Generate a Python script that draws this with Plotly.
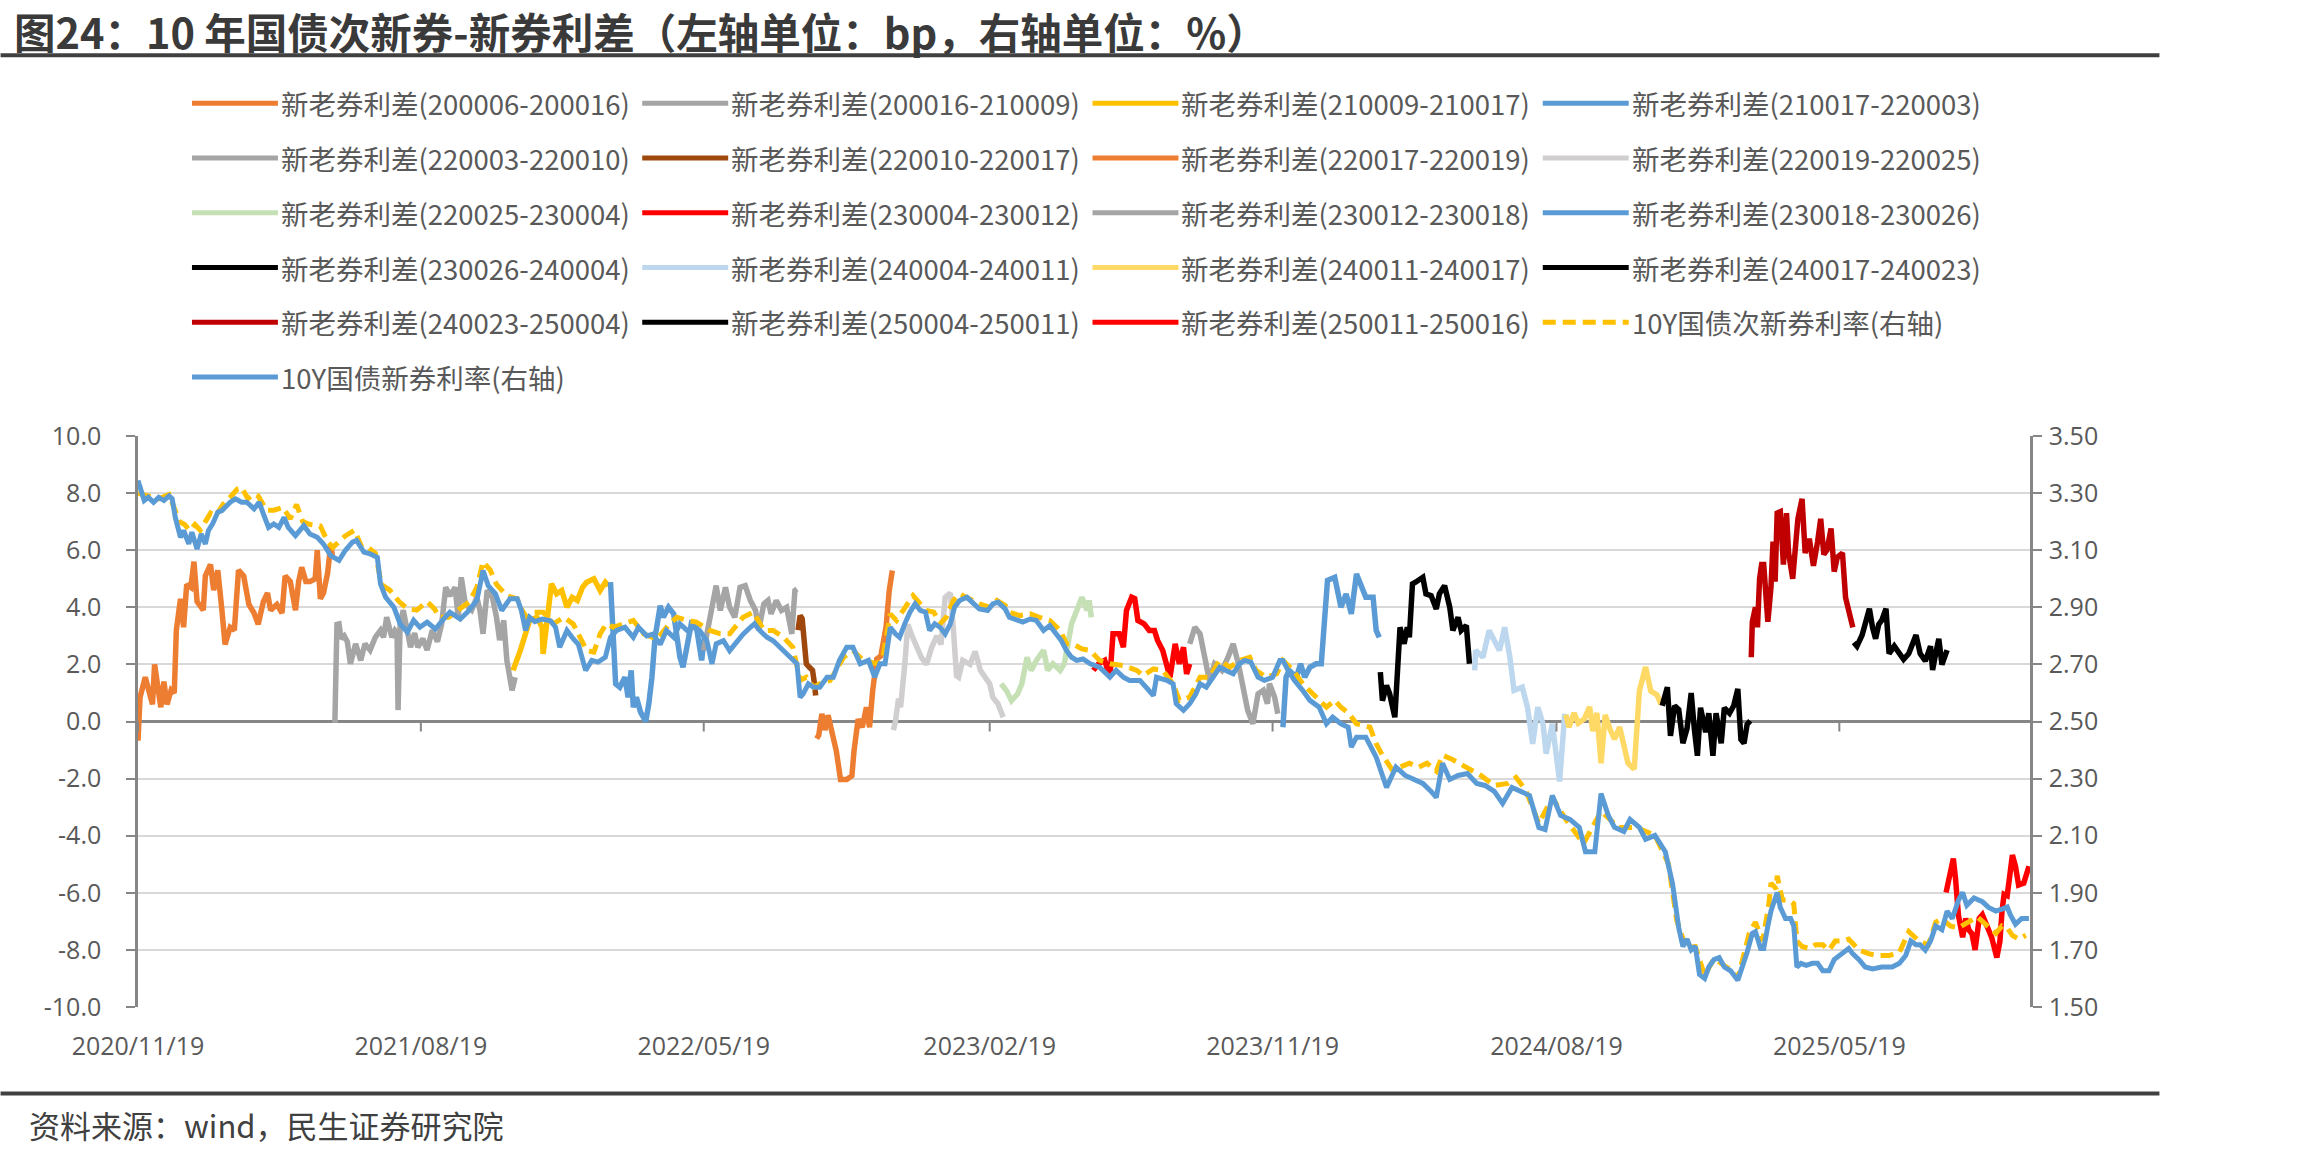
import pandas as pd
import plotly.graph_objects as go

BASE_DATE = "2020-11-19"   # x values below are calendar days counted from this date
X_END = "2025-11-19"

# ---------------- spreads (bp, left axis) ----------------
s01_day = [0, 2, 7, 10, 14, 16, 18, 22, 25, 28, 32, 35, 37, 41, 44, 47, 51, 54, 57, 61, 63, 65, 70, 73, 77, 81, 84, 89, 93, 97,
           102, 107, 112, 116, 121, 125, 128, 134, 139, 142, 147, 152, 155, 158, 162, 166, 171, 173, 176, 179, 183, 186, 188]
s01_bp = [-0.67, 0.85, 1.55, 1.2, 0.6, 2.0, 1.5, 0.5, 1.4, 0.6, 1.1, 1.0, 3.2, 4.3, 3.3, 4.8, 4.7, 5.6, 4.2, 4.0, 3.9, 5.1, 5.5, 4.6, 5.3, 3.9, 2.7, 3.3, 3.2, 5.3,
          5.1, 4.1, 3.8, 3.4, 4.2, 4.5, 3.9, 4.1, 3.8, 5.1, 4.9, 3.9, 4.9, 5.4, 4.9, 4.9, 5.0, 6.0, 4.3, 4.5, 5.2, 6.2, 5.7]

s02_day = [190, 192, 194, 196, 199, 202, 205, 210, 215, 219, 224, 229, 234, 237, 240, 245, 248, 250, 251, 253, 256, 260, 263, 267,
           270, 275, 279, 284, 289, 293, 297, 301, 306, 309, 312, 316, 322, 327, 330, 333, 337, 342, 346, 349, 353, 356, 361, 364]
s02_bp = [-0.05, 3.4, 3.42, 2.9, 3.0, 2.8, 2.02, 2.72, 2.14, 2.72, 2.5, 2.95, 3.19, 2.95, 3.65, 2.95, 3.19, 3.1, 0.4, 3.4, 3.9, 3.1, 2.6, 3.1,
          2.6, 2.9, 2.5, 3.2, 2.8, 3.4, 4.7, 4.4, 4.7, 3.65, 5.05, 4.1, 3.9, 4.35, 3.9, 3.07, 4.6, 4.35, 3.65, 2.85, 3.54, 2.14, 1.09, 1.55]

s03_day = [362, 366, 369, 372, 375, 378, 385, 390, 391, 395, 399, 404, 409, 414, 419, 424, 429, 433, 440, 446, 451, 454]
s03_bp = [1.79, 2.14, 2.49, 2.84, 3.19, 3.54, 3.65, 3.3, 2.37, 3.5, 4.82, 4.47, 4.59, 4.0, 4.35, 4.24, 4.7, 4.88, 5.0, 4.59, 4.88, 4.76]

s04_day = [456, 458, 461, 465, 470, 473, 476, 478, 481, 485, 488, 490, 493, 496, 499, 504, 507, 512, 517, 520, 523, 526, 531, 534, 539, 544, 547]
s04_bp = [4.88, 3.19, 1.32, 1.2, 1.55, 0.85, 1.79, 0.5, 0.85, 0.33, 0.15, 0.0, 0.62, 1.55, 2.95, 4.06, 3.65, 4.0, 3.77, 3.07, 2.25, 1.9, 2.72, 3.42, 3.3, 2.14, 3.07]

s05_day = [546, 550, 554, 558, 562, 567, 571, 576, 581, 586, 591, 596, 599, 604, 608, 611, 616, 621, 626, 631, 634, 636]
s05_bp = [2.49, 3.19, 3.83, 4.76, 3.89, 4.7, 4.0, 3.65, 4.7, 4.76, 4.24, 3.89, 3.19, 4.12, 4.24, 3.77, 4.24, 3.89, 4.0, 3.07, 4.59, 4.64]

s06_day = [637, 639, 641, 643, 645, 648, 651, 653, 654]
s06_bp = [3.2, 3.71, 3.6, 2.8, 2.02, 1.9, 1.79, 1.3, 0.91]

s07_day = [655, 657, 660, 663, 666, 670, 674, 678, 684, 689, 691, 695, 699, 703, 706, 709, 713, 717, 722, 725, 728]
s07_bp = [-0.6, -0.48, 0.27, -0.3, 0.22, -0.5, -1.04, -2.03, -2.03, -1.9, -1.04, 0.08, -0.2, 0.5, -0.2, 1.07, 2.19, 2.3, 3.32, 4.58, 5.29]

s08_day = [729, 731, 734, 736, 740, 743, 747, 752, 756, 761, 766, 771, 775, 779, 784, 787, 790, 792, 796, 803, 808, 813, 817, 822, 825, 830, 835]
s08_bp = [-0.3, 0.0, 0.8, 0.5, 2.0, 3.4, 3.0, 2.6, 2.25, 2.0, 2.6, 3.0, 2.7, 4.35, 4.5, 3.2, 1.6, 1.55, 2.14, 2.0, 2.45, 1.79, 1.55, 1.32, 0.85, 0.62, 0.15]

s09_day = [833, 838, 843, 849, 853, 858, 862, 867, 874, 878, 883, 890, 894, 898, 901, 906, 911, 916, 918, 920]
s09_bp = [1.32, 1.09, 0.73, 0.97, 1.32, 2.25, 1.79, 2.14, 2.49, 1.79, 2.02, 1.79, 2.02, 2.72, 3.42, 3.89, 4.35, 3.89, 4.24, 3.65]

s10_day = [922, 927, 933, 938, 941, 947, 951, 954, 959, 962, 965, 971, 976, 981, 984, 989, 996, 1001, 1005, 1009, 1012, 1015]
s10_bp = [1.79, 2.02, 2.14, 1.55, 3.07, 3.07, 2.6, 3.89, 4.35, 4.3, 3.54, 3.42, 3.19, 3.19, 2.84, 2.49, 1.55, 2.72, 2.02, 2.6, 1.67, 2.02]

s11_day = [1015, 1020, 1025, 1030, 1034, 1039, 1046, 1052, 1057, 1062, 1066, 1071, 1076, 1081, 1086, 1090, 1092, 1095, 1097, 1100]
s11_bp = [2.72, 3.3, 3.07, 2.25, 1.44, 2.02, 1.79, 2.25, 2.72, 2.02, 1.2, 0.39, -0.08, 0.97, 1.09, 0.62, 1.32, 0.97, 0.85, 0.27]

s12_day = [1105, 1108, 1111, 1118, 1122, 1126, 1131, 1137, 1142, 1145, 1148, 1155, 1161, 1166, 1171, 1176, 1181, 1185, 1192, 1195, 1198]
s12_bp = [-0.2, 1.55, 1.79, 1.55, 2.02, 1.55, 1.9, 2.02, 2.02, 3.54, 4.94, 5.05, 4.0, 4.47, 3.77, 5.17, 4.7, 4.35, 4.35, 3.19, 2.95]

s13_day = [1199, 1201, 1205, 1208, 1213, 1216, 1218, 1222, 1225, 1227, 1230, 1233, 1240, 1243, 1248, 1253, 1256, 1261, 1266, 1269, 1274, 1277, 1282, 1285]
s13_bp = [1.73, 0.73, 1.26, 0.97, 0.15, 2.02, 3.3, 2.72, 3.3, 2.95, 4.82, 4.88, 5.05, 4.47, 4.41, 3.94, 4.47, 4.76, 4.0, 3.19, 3.65, 3.19, 3.36, 2.02]

s14_day = [1290, 1291, 1298, 1304, 1309, 1314, 1319, 1324, 1328, 1336, 1341, 1346, 1351, 1356, 1359, 1365, 1372, 1377]
s14_bp = [1.79, 2.49, 2.25, 3.19, 2.84, 2.49, 3.3, 2.25, 1.09, 1.2, 0.5, -0.78, 0.5, -0.08, -1.13, -0.08, -2.1, 0.27]

s15_day = [1378, 1381, 1386, 1390, 1396, 1401, 1404, 1408, 1412, 1416, 1421, 1425, 1430, 1438, 1444, 1449, 1455, 1460, 1466, 1470]
s15_bp = [0.24, -0.2, 0.3, -0.06, 0.1, 0.51, -0.34, 0.3, -1.46, 0.23, -0.3, -0.62, -0.2, -1.46, -1.67, 1.07, 1.91, 1.07, 0.93, 0.6]

s16_day = [1471, 1476, 1479, 1483, 1487, 1491, 1495, 1499, 1502, 1505, 1508, 1513, 1516, 1520, 1523, 1528, 1531, 1536, 1540, 1544, 1547, 1550, 1553, 1556]
s16_bp = [0.55, 1.2, -0.5, 0.55, 0.42, -0.76, -0.24, 1.0, -0.24, -1.2, 0.48, -0.37, 0.29, -1.2, 0.29, -0.76, 0.48, 0.29, 0.55, 1.14, -0.63, -0.76, -0.1, 0.03]

s17_day = [1557, 1558, 1561, 1563, 1565, 1567, 1569, 1573, 1576, 1578, 1580, 1582, 1585, 1588, 1591, 1593, 1597, 1600, 1602, 1606, 1609, 1613, 1617,
           1621, 1624, 1627, 1630, 1634, 1637, 1640, 1645, 1648, 1651, 1655]
s17_bp = [2.25, 3.49, 4.0, 3.3, 5.0, 5.5, 5.5, 3.49, 4.7, 6.3, 4.9, 7.3, 7.35, 5.5, 7.3, 5.9, 5.0, 6.4, 7.1, 7.8, 5.9, 6.4, 5.45,
          6.3, 7.1, 5.85, 6.0, 6.76, 5.25, 5.75, 5.9, 4.34, 3.8, 3.3]

s18_day = [1656, 1659, 1664, 1667, 1671, 1674, 1677, 1680, 1683, 1687, 1690, 1695, 1700, 1704, 1709, 1716, 1720, 1725, 1730, 1732, 1735, 1738, 1741, 1746]
s18_bp = [2.77, 2.64, 3.03, 3.4, 3.95, 3.3, 2.9, 3.4, 3.55, 3.95, 2.38, 2.64, 2.38, 2.18, 2.38, 3.03, 2.38, 2.12, 2.64, 1.8, 2.38, 2.9, 1.99, 2.5]

s19_day = [1745, 1748, 1752, 1754, 1757, 1761, 1764, 1767, 1770, 1773, 1777, 1780, 1785, 1789, 1794, 1797, 1799, 1801, 1804, 1809, 1812, 1815, 1820, 1825]
s19_bp = [-5.99, -5.46, -4.8, -5.46, -6.8, -7.56, -6.9, -7.3, -7.43, -8.0, -6.9, -6.77, -7.16, -7.56, -8.27, -7.69, -6.64, -6.05, -6.1, -4.68, -5.07, -5.73, -5.66, -5.07]

spread_names = [
    "新老券利差(200006-200016)", "新老券利差(200016-210009)", "新老券利差(210009-210017)", "新老券利差(210017-220003)",
    "新老券利差(220003-220010)", "新老券利差(220010-220017)", "新老券利差(220017-220019)", "新老券利差(220019-220025)",
    "新老券利差(220025-230004)", "新老券利差(230004-230012)", "新老券利差(230012-230018)", "新老券利差(230018-230026)",
    "新老券利差(230026-240004)", "新老券利差(240004-240011)", "新老券利差(240011-240017)", "新老券利差(240017-240023)",
    "新老券利差(240023-250004)", "新老券利差(250004-250011)", "新老券利差(250011-250016)",
]
spread_colors = [
    "#ED7D31", "#A5A5A5", "#FFC000", "#5B9BD5",
    "#A5A5A5", "#9E480E", "#ED7D31", "#D0CECE",
    "#C5E0B4", "#FF0000", "#A5A5A5", "#5B9BD5",
    "#000000", "#BDD7EE", "#FFD966", "#000000",
    "#C00000", "#000000", "#FF0000",
]
spread_days = [s01_day, s02_day, s03_day, s04_day, s05_day, s06_day, s07_day, s08_day, s09_day, s10_day,
               s11_day, s12_day, s13_day, s14_day, s15_day, s16_day, s17_day, s18_day, s19_day]
spread_vals = [s01_bp, s02_bp, s03_bp, s04_bp, s05_bp, s06_bp, s07_bp, s08_bp, s09_bp, s10_bp,
               s11_bp, s12_bp, s13_bp, s14_bp, s15_bp, s16_bp, s17_bp, s18_bp, s19_bp]

# ---------------- yields (%, right axis): (day, value) ----------------
sub_name = "10Y国债次新券利率(右轴)"
new_name = "10Y国债新券利率(右轴)"
sub_yield = [
    (0, 3.30), (10, 3.29), (20, 3.28), (30, 3.295), (36, 3.24), (40, 3.20), (45, 3.19), (50, 3.169), (55, 3.19), (60, 3.17),
    (65, 3.20), (70, 3.23), (75, 3.22), (82, 3.26), (90, 3.29), (96, 3.315), (100, 3.32), (106, 3.28), (112, 3.297), (116, 3.29),
    (124, 3.24), (131, 3.24), (140, 3.25), (147, 3.21), (153, 3.26), (159, 3.20), (166, 3.19), (176, 3.185), (183, 3.13), (188, 3.11),
    (194, 3.13), (200, 3.15), (209, 3.17), (216, 3.11), (222, 3.11), (229, 3.09), (235, 2.98), (243, 2.96), (252, 2.92), (260, 2.895),
    (269, 2.89), (279, 2.92), (286, 2.895), (291, 2.865), (300, 2.865), (311, 2.895), (320, 2.92), (327, 2.97), (333, 3.06), (340, 3.03),
    (346, 2.98), (356, 2.94), (366, 2.93), (369, 2.90), (375, 2.865), (382, 2.883), (391, 2.883), (401, 2.842), (411, 2.865), (420, 2.842),
    (427, 2.795), (433, 2.749), (440, 2.743), (446, 2.807), (452, 2.842), (459, 2.83), (469, 2.842), (478, 2.854), (488, 2.807), (501, 2.789),
    (513, 2.842), (520, 2.865), (530, 2.854), (539, 2.848), (552, 2.819), (562, 2.807), (571, 2.807), (584, 2.865), (594, 2.883), (604, 2.819),
    (613, 2.819), (623, 2.795), (632, 2.76), (639, 2.644), (645, 2.655), (652, 2.62), (658, 2.632), (668, 2.644), (681, 2.725), (690, 2.749),
    (700, 2.714), (713, 2.702), (719, 2.725), (726, 2.877), (732, 2.854), (739, 2.889), (748, 2.941), (755, 2.912), (761, 2.889), (768, 2.883),
    (774, 2.842), (780, 2.865), (787, 2.924), (793, 2.947), (803, 2.929), (812, 2.912), (822, 2.90), (829, 2.924), (837, 2.906), (841, 2.883),
    (851, 2.871), (861, 2.877), (870, 2.865), (880, 2.854), (890, 2.819), (896, 2.772), (902, 2.772), (911, 2.754), (919, 2.749), (928, 2.714),
    (938, 2.702), (951, 2.696), (964, 2.679), (970, 2.661), (980, 2.684), (989, 2.679), (999, 2.632), (1005, 2.574), (1015, 2.585), (1025, 2.655),
    (1034, 2.655), (1044, 2.714), (1054, 2.69), (1063, 2.714), (1073, 2.725), (1079, 2.679), (1089, 2.655), (1099, 2.667), (1105, 2.714), (1115, 2.679),
    (1124, 2.632), (1137, 2.585), (1147, 2.55), (1155, 2.574), (1161, 2.55), (1169, 2.527), (1176, 2.492), (1189, 2.48), (1195, 2.422), (1201, 2.382),
    (1210, 2.333), (1218, 2.34), (1227, 2.354), (1236, 2.34), (1244, 2.354), (1253, 2.326), (1259, 2.382), (1268, 2.368), (1279, 2.347), (1287, 2.333),
    (1296, 2.311), (1309, 2.276), (1322, 2.283), (1330, 2.304), (1339, 2.262), (1352, 2.143), (1365, 2.234), (1378, 2.157), (1395, 2.072), (1412, 2.185),
    (1429, 2.129), (1446, 2.129), (1464, 2.101), (1477, 2.002), (1485, 1.805), (1494, 1.707), (1503, 1.712), (1512, 1.61), (1521, 1.67), (1537, 1.63),
    (1544, 1.60), (1555, 1.758), (1561, 1.797), (1568, 1.731), (1574, 1.862), (1576, 1.934), (1581, 1.914), (1582, 1.96), (1587, 1.875), (1593, 1.875),
    (1598, 1.862), (1601, 1.731), (1606, 1.712), (1613, 1.705), (1619, 1.718), (1626, 1.718), (1632, 1.699), (1638, 1.731), (1645, 1.731), (1651, 1.738),
    (1661, 1.699), (1671, 1.686), (1680, 1.68), (1690, 1.68), (1700, 1.692), (1709, 1.764), (1719, 1.731), (1728, 1.718), (1735, 1.797), (1741, 1.81),
    (1749, 1.784), (1757, 1.777), (1767, 1.797), (1775, 1.816), (1783, 1.79), (1793, 1.758), (1799, 1.784), (1804, 1.777), (1809, 1.751), (1815, 1.738),
    (1822, 1.751),
]
new_yield = [
    (0, 3.344), (6, 3.274), (10, 3.285), (15, 3.268), (20, 3.285), (25, 3.274), (30, 3.29), (33, 3.28), (36, 3.215), (41, 3.145),
    (44, 3.169), (49, 3.122), (52, 3.163), (57, 3.104), (61, 3.157), (65, 3.122), (68, 3.169), (72, 3.192), (77, 3.233), (81, 3.239),
    (89, 3.268), (94, 3.28), (100, 3.268), (105, 3.268), (112, 3.245), (117, 3.268), (121, 3.227), (126, 3.18), (131, 3.192), (136, 3.18),
    (141, 3.215), (145, 3.18), (152, 3.151), (160, 3.186), (166, 3.157), (173, 3.145), (179, 3.122), (186, 3.081), (194, 3.064), (200, 3.099),
    (207, 3.128), (211, 3.134), (218, 3.093), (224, 3.087), (231, 3.075), (234, 2.982), (239, 2.935), (247, 2.9), (253, 2.842), (260, 2.813),
    (266, 2.854), (272, 2.83), (279, 2.848), (287, 2.824), (295, 2.859), (301, 2.883), (311, 2.859), (318, 2.883), (327, 2.924), (333, 3.029),
    (338, 2.976), (345, 2.947), (351, 2.889), (359, 2.93), (366, 2.93), (370, 2.889), (374, 2.819), (378, 2.865), (383, 2.85), (390, 2.859),
    (398, 2.853), (403, 2.83), (407, 2.76), (414, 2.819), (420, 2.79), (425, 2.77), (432, 2.679), (438, 2.714), (444, 2.708), (451, 2.725),
    (456, 2.795), (462, 2.819), (470, 2.83), (478, 2.795), (483, 2.83), (491, 2.8), (497, 2.806), (504, 2.77), (510, 2.819), (517, 2.795),
    (523, 2.842), (530, 2.819), (536, 2.83), (542, 2.819), (549, 2.783), (554, 2.702), (558, 2.772), (565, 2.783), (571, 2.748), (578, 2.783),
    (584, 2.806), (591, 2.83), (595, 2.842), (600, 2.819), (607, 2.795), (613, 2.783), (620, 2.76), (626, 2.737), (633, 2.714), (636, 2.702),
    (639, 2.585), (642, 2.597), (647, 2.632), (652, 2.62), (658, 2.62), (665, 2.655), (671, 2.655), (677, 2.714), (684, 2.76), (690, 2.76),
    (697, 2.702), (705, 2.714), (711, 2.655), (716, 2.702), (721, 2.702), (726, 2.83), (731, 2.807), (735, 2.795), (740, 2.842), (745, 2.883),
    (750, 2.912), (755, 2.889), (760, 2.883), (764, 2.819), (769, 2.842), (774, 2.83), (779, 2.807), (784, 2.842), (788, 2.9), (793, 2.924),
    (800, 2.935), (806, 2.912), (812, 2.894), (820, 2.889), (825, 2.912), (830, 2.918), (837, 2.894), (841, 2.865), (848, 2.854), (854, 2.848),
    (861, 2.859), (867, 2.854), (874, 2.819), (880, 2.836), (886, 2.807), (891, 2.784), (896, 2.749), (901, 2.725), (906, 2.714), (912, 2.719),
    (919, 2.702), (928, 2.69), (938, 2.655), (944, 2.679), (951, 2.655), (957, 2.644), (967, 2.644), (973, 2.62), (980, 2.591), (983, 2.655),
    (993, 2.644), (999, 2.632), (1002, 2.562), (1009, 2.539), (1015, 2.562), (1021, 2.597), (1025, 2.632), (1031, 2.62), (1037, 2.655), (1044, 2.69),
    (1050, 2.679), (1057, 2.667), (1063, 2.702), (1068, 2.714), (1074, 2.708), (1081, 2.655), (1087, 2.644), (1095, 2.655), (1102, 2.714), (1105, 2.714),
    (1110, 2.679), (1116, 2.644), (1124, 2.609), (1131, 2.574), (1140, 2.55), (1147, 2.492), (1153, 2.515), (1161, 2.492), (1168, 2.48), (1171, 2.41),
    (1176, 2.445), (1185, 2.445), (1190, 2.41), (1195, 2.375), (1205, 2.269), (1214, 2.34), (1223, 2.311), (1231, 2.297), (1240, 2.283), (1248, 2.255),
    (1253, 2.234), (1259, 2.354), (1266, 2.297), (1274, 2.311), (1283, 2.318), (1292, 2.283), (1300, 2.276), (1309, 2.255), (1317, 2.213), (1326, 2.269),
    (1335, 2.255), (1343, 2.241), (1352, 2.129), (1358, 2.122), (1365, 2.241), (1373, 2.171), (1382, 2.157), (1391, 2.129), (1397, 2.044), (1406, 2.044),
    (1412, 2.248), (1419, 2.171), (1425, 2.129), (1434, 2.115), (1440, 2.157), (1449, 2.129), (1455, 2.087), (1464, 2.101), (1474, 2.044), (1481, 1.932),
    (1487, 1.777), (1491, 1.712), (1495, 1.738), (1499, 1.70), (1503, 1.712), (1507, 1.614), (1512, 1.60), (1516, 1.64), (1521, 1.666), (1526, 1.673),
    (1531, 1.64), (1537, 1.627), (1544, 1.594), (1548, 1.633), (1553, 1.692), (1558, 1.758), (1561, 1.764), (1566, 1.705), (1569, 1.705), (1573, 1.784),
    (1576, 1.836), (1582, 1.901), (1585, 1.849), (1590, 1.81), (1595, 1.81), (1598, 1.784), (1601, 1.64), (1605, 1.653), (1610, 1.646), (1616, 1.653),
    (1621, 1.653), (1626, 1.627), (1632, 1.627), (1637, 1.666), (1642, 1.68), (1648, 1.692), (1651, 1.705), (1655, 1.686), (1661, 1.666), (1667, 1.64),
    (1674, 1.633), (1683, 1.64), (1693, 1.64), (1700, 1.653), (1706, 1.68), (1711, 1.731), (1716, 1.718), (1720, 1.718), (1725, 1.699), (1730, 1.731),
    (1735, 1.784), (1741, 1.771), (1746, 1.836), (1751, 1.81), (1757, 1.875), (1761, 1.901), (1765, 1.856), (1772, 1.882), (1777, 1.875), (1780, 1.869),
    (1786, 1.849), (1793, 1.836), (1799, 1.843), (1804, 1.85), (1807, 1.823), (1812, 1.79), (1818, 1.81), (1825, 1.81),
]
sub_color = "#FFC000"
new_color = "#5B9BD5"

# axis ticks
x_tick_dates = ["2020-11-19", "2021-08-19", "2022-05-19", "2023-02-19", "2023-11-19", "2024-08-19", "2025-05-19"]
x_tick_text = ["2020/11/19", "2021/08/19", "2022/05/19", "2023/02/19", "2023/11/19", "2024/08/19", "2025/05/19"]
y_left_ticks = [-10, -8, -6, -4, -2, 0, 2, 4, 6, 8, 10]
y_left_text = ["-10.0", "-8.0", "-6.0", "-4.0", "-2.0", "0.0", "2.0", "4.0", "6.0", "8.0", "10.0"]
y_right_ticks = [1.5, 1.7, 1.9, 2.1, 2.3, 2.5, 2.7, 2.9, 3.1, 3.3, 3.5]
y_right_text = ["1.50", "1.70", "1.90", "2.10", "2.30", "2.50", "2.70", "2.90", "3.10", "3.30", "3.50"]

title_text = "图24：10 年国债次新券-新券利差（左轴单位：bp，右轴单位：%）"
source_text = "资料来源：wind，民生证券研究院"

# ---------------- figure ----------------
base = pd.Timestamp(BASE_DATE)


def to_dates(days):
    return [base + pd.Timedelta(days=int(d)) for d in days]


W, H = 2310, 1155
PL, PR, PT, PB = 137.5, 2030.5, 436.0, 1007.5
PW, PH = PR - PL, PB - PT


def px(x):
    return (x - PL) / PW


def py(y):
    return (PB - y) / PH


CJK = "Noto Sans CJK SC"
NUM = "Open Sans"
GREY_TXT = "#595959"
AXIS_C = "#868686"
LW = 5.5
LW_Y = 5.0
SUB_DASH = "13px,7px"

fig = go.Figure()

for d, v in zip(spread_days, spread_vals):
    assert len(d) == len(v)

fig.add_trace(go.Scatter(x=to_dates([p[0] for p in sub_yield]), y=[p[1] for p in sub_yield], mode="lines",
                         name=sub_name, yaxis="y2", line=dict(color=sub_color, width=LW_Y, dash=SUB_DASH),
                         showlegend=False))
fig.add_trace(go.Scatter(x=to_dates([p[0] for p in new_yield]), y=[p[1] for p in new_yield], mode="lines",
                         name=new_name, yaxis="y2", line=dict(color=new_color, width=LW_Y), showlegend=False))
for name, color, d, v in zip(spread_names, spread_colors, spread_days, spread_vals):
    fig.add_trace(go.Scatter(x=to_dates(d), y=v, mode="lines", name=name, yaxis="y",
                             line=dict(color=color, width=LW), showlegend=False))

shapes = []
# x tick marks on the zero line
for t in x_tick_dates:
    shapes.append(dict(type="line", xref="x", yref="y", ysizemode="pixel", yanchor=0, x0=t, x1=t, y0=0, y1=-10,
                       line=dict(color=AXIS_C, width=2)))
# separator lines (title / source)
shapes.append(dict(type="line", xref="paper", yref="paper", x0=px(0), x1=px(2160), y0=py(55), y1=py(55),
                   line=dict(color="#404040", width=4)))
shapes.append(dict(type="line", xref="paper", yref="paper", x0=px(0), x1=px(2160), y0=py(1094), y1=py(1094),
                   line=dict(color="#404040", width=4)))

annotations = []
# manual legend: 4 columns
legend_names = spread_names + [sub_name, new_name]
legend_colors = spread_colors + [sub_color, new_color]
legend_dash = ["solid"] * len(spread_names) + [SUB_DASH, "solid"]
COL0, COLSTEP, ROW0, ROWSTEP, SAMPLE = 191.5, 450.5, 103.0, 54.8, 86
for i, (nm, col, ds) in enumerate(zip(legend_names, legend_colors, legend_dash)):
    r, c = divmod(i, 4)
    x0 = COL0 + c * COLSTEP
    yy = ROW0 + r * ROWSTEP
    shapes.append(dict(type="line", xref="paper", yref="paper", x0=px(x0), x1=px(x0 + SAMPLE), y0=py(yy), y1=py(yy),
                       line=dict(color=col, width=5, dash=ds)))
    annotations.append(dict(xref="paper", yref="paper", x=px(x0 + SAMPLE + 1), y=py(yy), xanchor="left", yanchor="middle",
                            text=nm, showarrow=False, font=dict(family=CJK, size=27.5, color=GREY_TXT)))

annotations.append(dict(xref="paper", yref="paper", x=px(26), y=py(1125), xanchor="left", yanchor="middle",
                        text=source_text, showarrow=False, font=dict(family=CJK, size=31, color="#404040")))
# title
annotations.append(dict(xref="paper", yref="paper", x=px(12), y=py(31), xanchor="left", yanchor="middle",
                        text="<b>" + title_text + "</b>", showarrow=False, borderpad=0,
                        font=dict(family=CJK, size=41.5, color="#3A3A3A")))

fig.update_layout(
    width=W, height=H,
    margin=dict(l=PL, r=W - PR, t=PT, b=H - PB, pad=0),
    paper_bgcolor="white", plot_bgcolor="white",
    showlegend=False,
    xaxis=dict(type="date", range=[BASE_DATE, X_END], tickvals=x_tick_dates, ticktext=x_tick_text,
               showgrid=False, showline=False, zeroline=False, ticks="", ticklabelstandoff=22,
               tickfont=dict(family=NUM, size=25, color=GREY_TXT), automargin=False),
    yaxis=dict(range=[-10, 10], tickvals=y_left_ticks, ticktext=y_left_text, showgrid=True, gridcolor="#D9D9D9",
               gridwidth=2, zeroline=True, zerolinecolor=AXIS_C, zerolinewidth=2.5, showline=True, linecolor=AXIS_C,
               linewidth=2.5, ticks="outside", ticklen=9, tickwidth=2, tickcolor=AXIS_C, ticklabelstandoff=20,
               tickfont=dict(family=NUM, size=25, color=GREY_TXT), automargin=False),
    yaxis2=dict(range=[1.5, 3.5], tickvals=y_right_ticks, ticktext=y_right_text, overlaying="y", side="right",
                showgrid=False, zeroline=False, showline=True, linecolor=AXIS_C, linewidth=2.5, ticks="outside",
                ticklen=9, tickwidth=2, tickcolor=AXIS_C, ticklabelstandoff=2,
                tickfont=dict(family=NUM, size=25, color=GREY_TXT), automargin=False),
    shapes=shapes, annotations=annotations,
)

fig.write_html("out.html")
